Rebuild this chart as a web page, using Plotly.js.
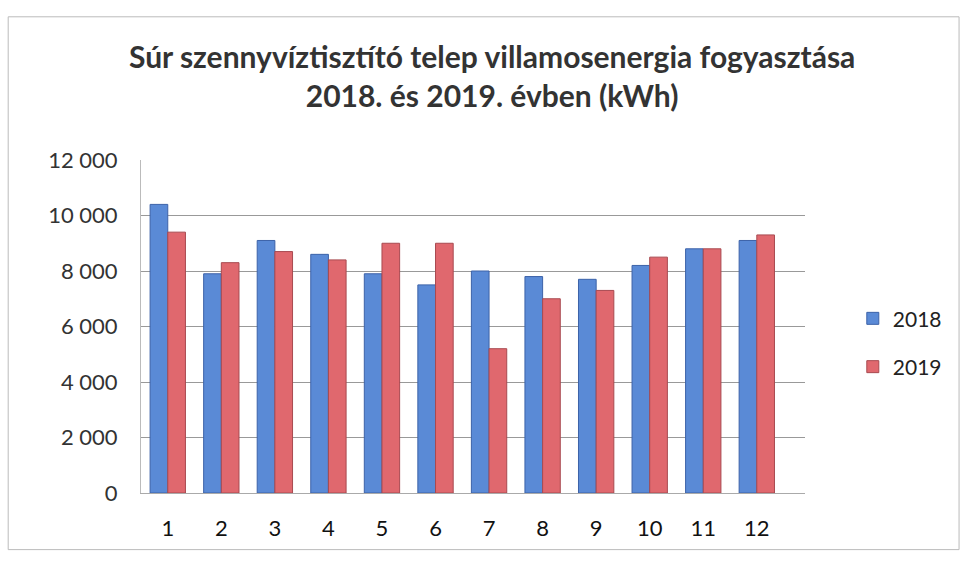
<!DOCTYPE html>
<html>
<head>
<meta charset="utf-8">
<script src="https://cdn.plot.ly/plotly-3.0.1.min.js"></script>
<style>
html,body{margin:0;padding:0;background:#fff;}
#chart{width:965px;height:564px;}
</style>
</head>
<body>
<div id="chart"></div>
<script>
const months = ['1','2','3','4','5','6','7','8','9','10','11','12'];
const values2018 = [10400, 7900, 9100, 8600, 7900, 7500, 8000, 7800, 7700, 8200, 8800, 9100];
const values2019 = [9400, 8300, 8700, 8400, 9000, 9000, 5200, 7000, 7300, 8500, 8800, 9300];
const yTickVals = [0, 2000, 4000, 6000, 8000, 10000, 12000];
const yTickText = ['0', '2 000', '4 000', '6 000', '8 000', '10 000', '12 000'];

const font = 'Lato, "Open Sans", sans-serif';

const data = [
  {type:'bar', name:'2018', x:months, y:values2018, legendgroup:'a',
   marker:{color:'#5a8ad6', line:{color:'#3c62a8', width:1}}},
  {type:'bar', name:'2019', x:months, y:values2019, legendgroup:'b',
   marker:{color:'#e0686e', line:{color:'#a84a50', width:1}}}
];

const layout = {
  width:965, height:564,
  margin:{l:141, r:160, t:160, b:71},
  paper_bgcolor:'#fff', plot_bgcolor:'#fff',
  title:{text:'<b>Súr szennyvíztisztító telep villamosenergia fogyasztása<br>2018. és 2019. évben (kWh)</b>',
         x:0.51, xanchor:'center', y:0.879, yanchor:'middle',
         font:{family:font, size:30, color:'#333'}},
  barmode:'group', bargap:0.34, bargroupgap:0,
  xaxis:{type:'category', range:[-0.5, 11.9], showgrid:false, zeroline:false,
         showline:true, linecolor:'#aaa', ticks:'', ticklabelstandoff:16,
         tickfont:{family:font, size:22, color:'#111'}},
  yaxis:{range:[0,12000], tickvals:yTickVals, ticktext:yTickText, showgrid:true,
         gridcolor:'#999', gridwidth:1, zeroline:false, showline:true, linecolor:'#bbb',
         ticks:'', ticklen:0, ticklabelstandoff:18, tickfont:{family:font, size:22, color:'#333'}},
  legend:{x:1.072, y:0.585, xanchor:'left', yanchor:'top', font:{family:font, size:21, color:'#222'},
          traceorder:'grouped', tracegroupgap:18, itemwidth:30, bgcolor:'rgba(0,0,0,0)'},
  shapes:[{type:'rect', xref:'paper', yref:'paper', x0:-0.2, x1:1.232, y0:-0.17, y1:1.43,
           line:{color:'#bbb', width:1}}]
};

Plotly.newPlot('chart', data, layout, {displayModeBar:false, staticPlot:true});
</script>
</body>
</html>
